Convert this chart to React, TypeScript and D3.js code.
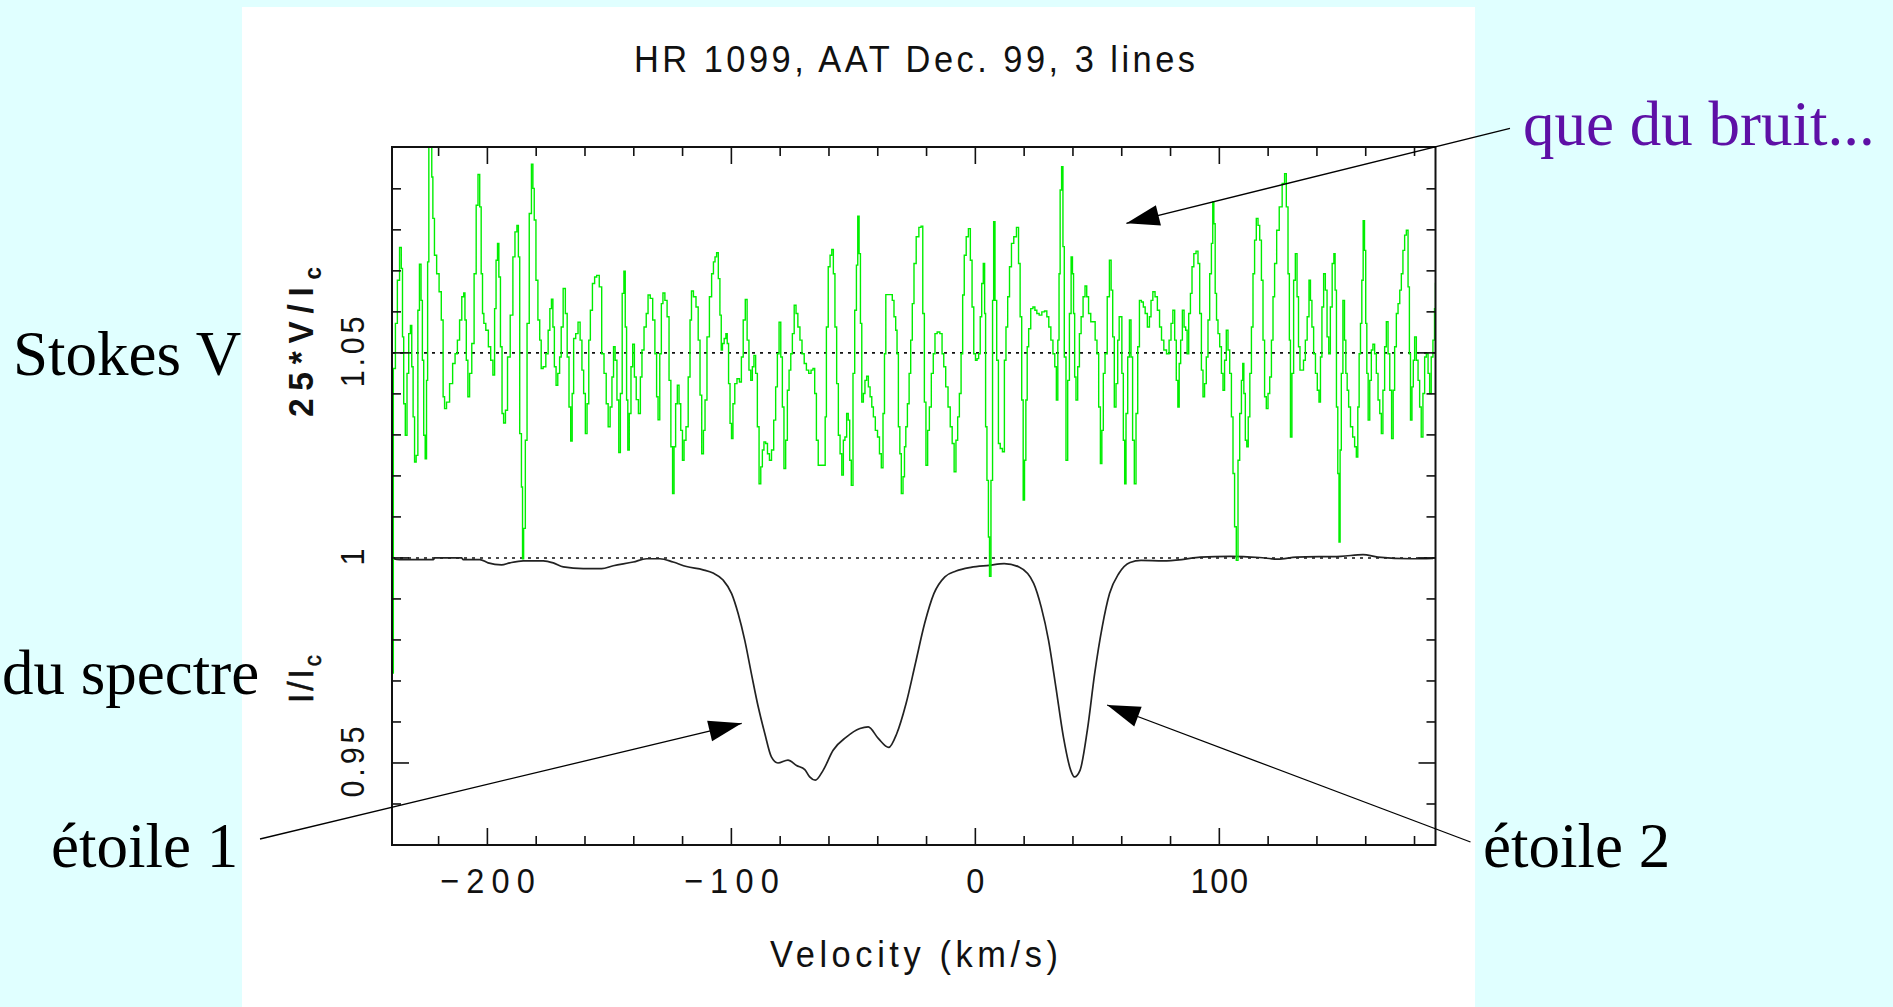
import React from "react";
import * as d3 from "d3";

// ---------- DATA (velocity km/s, plotted value) ----------
// Stokes V (scaled 25*V/Ic, offset to 1.05)
const stokesProfile: [number, number][] = [
  [-239.1, 0.9719], [-238.0, 1.0462], [-237.4, 1.0572], [-236.4, 1.0677], [-235.6, 1.0757], [-235.0, 1.0706],
  [-234.6, 1.0539], [-234.0, 1.0376], [-233.3, 1.0299], [-232.6, 1.045], [-231.9, 1.0547], [-231.2, 1.0567],
  [-230.8, 1.0466], [-230.1, 1.0344], [-229.6, 1.0234], [-228.8, 1.025], [-228.2, 1.0604], [-227.5, 1.0716],
  [-226.9, 1.0628], [-226.4, 1.0482], [-225.8, 1.0299], [-225.2, 1.0242], [-224.7, 1.0433], [-224.3, 1.0722],
  [-223.7, 1.102], [-223.0, 1.102], [-222.6, 1.0929], [-222.1, 1.0828], [-221.3, 1.0738], [-220.3, 1.0693],
  [-219.3, 1.0649], [-218.5, 1.058], [-217.8, 1.0393], [-217.3, 1.0364], [-216.2, 1.038], [-214.8, 1.0425],
  [-213.7, 1.0474], [-212.8, 1.0498], [-211.8, 1.0531], [-211.0, 1.058], [-210.0, 1.0637], [-209.4, 1.0646],
  [-209.0, 1.058], [-208.3, 1.0482], [-207.7, 1.0393], [-206.9, 1.045], [-205.9, 1.0523], [-205.0, 1.0693],
  [-204.2, 1.086], [-203.5, 1.0935], [-202.8, 1.0856], [-202.3, 1.0693], [-201.7, 1.0596], [-201.2, 1.0572],
  [-200.1, 1.0555], [-199.1, 1.0515], [-198.2, 1.0482], [-197.3, 1.0446], [-196.8, 1.0608], [-196.1, 1.0726],
  [-195.6, 1.0767], [-195.0, 1.0685], [-194.3, 1.0515], [-193.7, 1.0352], [-193.0, 1.0329], [-192.2, 1.036],
  [-191.3, 1.049], [-190.0, 1.0592], [-189.1, 1.0734], [-188.3, 1.0795], [-187.5, 1.0811], [-187.1, 1.0734],
  [-186.4, 1.0303], [-185.7, 1.0173], [-185.5, 0.9998], [-184.8, 1.0072], [-184.1, 1.0287], [-183.4, 1.0572],
  [-182.3, 1.084], [-181.6, 1.096], [-181.1, 1.0901], [-180.5, 1.0824], [-179.7, 1.0677], [-178.9, 1.058],
  [-178.2, 1.0531], [-177.7, 1.0462], [-176.6, 1.0466], [-175.5, 1.0498], [-174.7, 1.0555], [-174.1, 1.0608],
  [-173.4, 1.0631], [-172.9, 1.0563], [-172.2, 1.0466], [-171.5, 1.0421], [-170.8, 1.045], [-170.0, 1.049],
  [-169.5, 1.0563], [-168.4, 1.0657], [-167.7, 1.0596], [-166.9, 1.049], [-166.2, 1.0368], [-165.5, 1.0285],
  [-165.0, 1.0401], [-164.3, 1.0535], [-163.3, 1.0547], [-162.4, 1.0575], [-161.6, 1.0531], [-160.9, 1.0458],
  [-160.2, 1.0401], [-159.5, 1.0303], [-158.8, 1.0376], [-158.1, 1.0531], [-157.5, 1.0604], [-156.4, 1.0669],
  [-155.7, 1.0685], [-154.7, 1.0689], [-153.6, 1.0661], [-152.7, 1.0498], [-151.7, 1.045], [-150.9, 1.0376],
  [-150.1, 1.032], [-149.3, 1.0368], [-148.6, 1.0441], [-148.0, 1.0515], [-147.3, 1.0482], [-146.5, 1.0385],
  [-145.8, 1.0257], [-145.2, 1.0401], [-144.3, 1.0645], [-143.8, 1.0699], [-143.2, 1.0563], [-142.7, 1.0385],
  [-142.2, 1.0263], [-141.5, 1.0352], [-140.8, 1.0466], [-140.1, 1.0521], [-139.4, 1.0441], [-138.6, 1.0386],
  [-137.6, 1.0352], [-137.0, 1.0441], [-136.3, 1.0507], [-135.3, 1.0563], [-134.5, 1.0596], [-133.8, 1.0641],
  [-132.7, 1.0633], [-131.8, 1.058], [-130.9, 1.0498], [-130.4, 1.0393], [-129.7, 1.0337], [-129.0, 1.0498],
  [-128.4, 1.062], [-127.7, 1.0646], [-126.8, 1.0628], [-125.9, 1.0588], [-125.2, 1.0433], [-124.4, 1.0271],
  [-123.8, 1.0157], [-123.2, 1.0271], [-122.5, 1.0376], [-121.8, 1.0421], [-121.1, 1.0376], [-120.4, 1.0311],
  [-119.7, 1.0238], [-119.1, 1.0287], [-118.1, 1.032], [-117.3, 1.0441], [-116.6, 1.058], [-116.1, 1.0651],
  [-115.0, 1.0637], [-114.0, 1.0612], [-113.2, 1.0531], [-112.5, 1.0397], [-111.8, 1.0254], [-111.1, 1.0311],
  [-110.5, 1.0385], [-109.5, 1.0539], [-108.5, 1.0637], [-107.7, 1.0693], [-107.0, 1.0722], [-106.4, 1.0734],
  [-105.7, 1.0744], [-105.0, 1.0681], [-104.4, 1.0592], [-103.9, 1.0507], [-103.4, 1.0523], [-102.5, 1.0535],
  [-102.0, 1.0547], [-101.4, 1.0523], [-100.9, 1.0425], [-100.2, 1.0328], [-99.7, 1.0291], [-99.0, 1.0376],
  [-98.2, 1.0425], [-97.2, 1.0437], [-96.2, 1.0429], [-95.6, 1.049], [-94.7, 1.058], [-93.9, 1.063],
  [-93.2, 1.0531], [-92.4, 1.0458], [-91.7, 1.0433], [-91.1, 1.0466], [-90.4, 1.0494], [-89.7, 1.045],
  [-89.0, 1.032], [-88.3, 1.0181], [-87.6, 1.0222], [-87.0, 1.0263], [-86.3, 1.0283], [-85.6, 1.0279],
  [-84.8, 1.0254], [-84.0, 1.0238], [-83.1, 1.0263], [-82.2, 1.0336], [-81.5, 1.0417], [-80.8, 1.0498],
  [-80.1, 1.0575], [-79.4, 1.049], [-78.8, 1.0368], [-78.1, 1.0218], [-77.4, 1.0287], [-76.7, 1.0409],
  [-76.0, 1.0458], [-75.3, 1.0498], [-74.7, 1.0547], [-73.8, 1.0616], [-73.2, 1.0596], [-72.3, 1.0563],
  [-71.5, 1.0531], [-70.6, 1.0498], [-69.7, 1.0474], [-68.8, 1.0458], [-67.8, 1.045], [-66.9, 1.0458],
  [-66.2, 1.0462], [-65.5, 1.0401], [-64.8, 1.0287], [-64.0, 1.0226], [-63.1, 1.0226], [-61.7, 1.0226],
  [-61.4, 1.0344], [-60.7, 1.0563], [-59.9, 1.071], [-59.2, 1.0738], [-58.5, 1.0752], [-57.9, 1.0693],
  [-57.2, 1.0563], [-56.5, 1.0425], [-55.8, 1.0299], [-55.1, 1.0254], [-54.4, 1.0202], [-53.8, 1.0287],
  [-53.1, 1.0295], [-52.4, 1.0352], [-51.8, 1.0336], [-51.2, 1.0238], [-50.5, 1.0177], [-49.8, 1.045],
  [-49.1, 1.0604], [-48.4, 1.0714], [-48.0, 1.0833], [-47.3, 1.0742], [-46.9, 1.0572], [-46.2, 1.038],
  [-45.6, 1.0401], [-44.9, 1.0433], [-44.2, 1.0443], [-43.5, 1.0417], [-42.8, 1.0393], [-42.1, 1.0368],
  [-41.5, 1.0344], [-40.5, 1.0311], [-39.7, 1.0295], [-38.9, 1.0254], [-38.2, 1.022], [-37.5, 1.0352],
  [-37.0, 1.0498], [-36.4, 1.0642], [-35.3, 1.0642], [-34.4, 1.0642], [-33.7, 1.0628], [-33.0, 1.0588],
  [-32.3, 1.0555], [-31.9, 1.0498], [-31.2, 1.032], [-30.7, 1.0254], [-30.0, 1.0157], [-29.3, 1.0198],
  [-28.8, 1.0271], [-28.2, 1.032], [-27.5, 1.0376], [-26.8, 1.045], [-26.2, 1.0531], [-25.5, 1.062],
  [-24.8, 1.0718], [-23.7, 1.0783], [-22.6, 1.0806], [-21.9, 1.0809], [-21.2, 1.0596], [-20.6, 1.038],
  [-19.9, 1.0226], [-19.2, 1.0311], [-18.5, 1.0368], [-17.6, 1.045], [-16.9, 1.0498], [-16.2, 1.0547],
  [-15.1, 1.0551], [-14.0, 1.0547], [-13.3, 1.0498], [-12.6, 1.0466], [-11.7, 1.0417], [-10.7, 1.0368],
  [-9.9, 1.032], [-9.1, 1.0279], [-8.3, 1.021], [-7.6, 1.0287], [-6.9, 1.0344], [-6.2, 1.0401],
  [-5.5, 1.0498], [-4.9, 1.0641], [-4.2, 1.0738], [-3.3, 1.0783], [-2.4, 1.0803], [-1.7, 1.0726],
  [-1.0, 1.0612], [-0.3, 1.0498], [0.4, 1.0482], [1.0, 1.0486], [1.7, 1.0498], [2.3, 1.0588],
  [2.9, 1.0669], [3.6, 1.0718], [4.0, 1.0596], [4.4, 1.032], [5.1, 1.0189], [5.6, 1.0051],
  [6.0, 0.9955], [6.8, 1.0189], [7.3, 1.0628], [7.7, 1.082], [8.4, 1.0628], [9.1, 1.0482],
  [9.8, 1.0279], [10.6, 1.0267], [11.6, 1.0259], [12.2, 1.0482], [12.9, 1.0563], [13.6, 1.0637],
  [14.4, 1.071], [15.2, 1.0767], [16.3, 1.0783], [17.4, 1.0806], [18.0, 1.0718], [18.7, 1.0588],
  [19.3, 1.0385], [19.9, 1.0141], [20.4, 1.0238], [21.0, 1.0385], [21.5, 1.0515], [22.2, 1.0559],
  [23.2, 1.0608], [24.0, 1.0612], [24.8, 1.0604], [25.6, 1.0596], [26.7, 1.0592], [27.8, 1.06],
  [28.9, 1.0602], [29.7, 1.0588], [30.5, 1.0563], [31.4, 1.0531], [32.2, 1.0498], [32.9, 1.0466],
  [33.5, 1.0385], [34.1, 1.0531], [34.5, 1.0693], [35.0, 1.0897], [35.7, 1.0954], [36.1, 1.0759],
  [36.8, 1.049], [37.5, 1.0238], [38.2, 1.0433], [38.9, 1.0596], [39.6, 1.0734], [40.0, 1.0693],
  [40.5, 1.0596], [40.9, 1.0441], [41.6, 1.0385], [42.3, 1.0466], [43.0, 1.0547], [43.7, 1.0588],
  [44.6, 1.0637], [45.3, 1.0663], [46.0, 1.0637], [46.8, 1.0596], [47.8, 1.0576], [48.7, 1.0576],
  [49.5, 1.0531], [50.2, 1.0498], [50.9, 1.0368], [51.6, 1.023], [52.1, 1.0311], [52.8, 1.045],
  [53.5, 1.0498], [54.6, 1.0637], [55.3, 1.0726], [56.0, 1.0653], [56.6, 1.0539], [57.3, 1.0368],
  [58.0, 1.0425], [58.7, 1.0531], [59.2, 1.0588], [59.8, 1.0588], [60.3, 1.045], [61.0, 1.0287],
  [61.4, 1.0181], [62.1, 1.0352], [62.8, 1.049], [63.5, 1.058], [64.1, 1.049], [64.8, 1.0287],
  [65.5, 1.0181], [66.2, 1.0352], [66.9, 1.0515], [67.6, 1.0628], [68.5, 1.0624], [69.2, 1.0612],
  [70.0, 1.0596], [71.0, 1.0563], [71.7, 1.0588], [72.3, 1.0628], [73.2, 1.0649], [74.1, 1.0637],
  [75.1, 1.0604], [75.9, 1.0563], [76.7, 1.0531], [77.8, 1.0507], [78.9, 1.0498], [79.9, 1.0531],
  [80.5, 1.0572], [81.4, 1.0604], [82.0, 1.0531], [82.7, 1.0433], [83.3, 1.0368], [83.8, 1.0474],
  [84.5, 1.0531], [85.2, 1.0604], [85.9, 1.0563], [86.5, 1.0555], [87.1, 1.0498], [87.8, 1.0596],
  [88.5, 1.0645], [89.1, 1.071], [90.0, 1.0742], [90.9, 1.0748], [91.6, 1.0718], [92.3, 1.0596],
  [93.0, 1.0458], [93.6, 1.0393], [94.3, 1.0425], [95.0, 1.049], [95.7, 1.058], [96.4, 1.0693],
  [97.1, 1.0767], [97.5, 1.0868], [98.0, 1.0815], [98.6, 1.0645], [99.1, 1.058], [99.8, 1.0547],
  [100.5, 1.0515], [101.2, 1.045], [101.8, 1.0409], [102.5, 1.0482], [103.2, 1.0555], [103.9, 1.0507],
  [104.6, 1.045], [105.3, 1.0344], [105.9, 1.0206], [106.6, 1.0076], [107.3, 0.9994], [108.0, 1.0238],
  [108.7, 1.0352], [109.4, 1.0433], [109.8, 1.0474], [110.3, 1.0401], [111.0, 1.0287], [111.5, 1.0271],
  [112.2, 1.0344], [112.8, 1.045], [113.5, 1.0563], [114.1, 1.0693], [114.8, 1.0775], [115.5, 1.0828],
  [116.2, 1.0811], [116.9, 1.0775], [117.6, 1.0677], [118.2, 1.0531], [118.9, 1.0393], [119.6, 1.0364],
  [120.3, 1.0401], [121.0, 1.0441], [121.7, 1.0531], [122.3, 1.0637], [123.0, 1.0718], [124.0, 1.0799],
  [125.1, 1.0856], [126.4, 1.0913], [127.1, 1.0937], [127.8, 1.0856], [128.5, 1.0693], [128.9, 1.0531],
  [129.4, 1.0295], [130.1, 1.045], [130.8, 1.0677], [131.5, 1.0742], [132.2, 1.0637], [132.7, 1.0515],
  [133.4, 1.0458], [134.1, 1.0458], [134.9, 1.0482], [135.6, 1.0531], [136.4, 1.0588], [137.1, 1.0677],
  [137.6, 1.0628], [138.3, 1.0563], [139.0, 1.0498], [139.8, 1.045], [140.5, 1.0409], [141.2, 1.038],
  [141.7, 1.049], [142.4, 1.0612], [143.1, 1.0693], [143.8, 1.0653], [144.5, 1.0539], [145.2, 1.0498],
  [145.8, 1.0612], [146.7, 1.0718], [147.2, 1.0742], [147.7, 1.0653], [148.3, 1.0368], [148.8, 1.0206],
  [149.3, 1.0039], [149.7, 1.0263], [150.3, 1.045], [151.0, 1.0628], [151.6, 1.0531], [152.1, 1.045],
  [152.7, 1.0409], [153.3, 1.0368], [154.2, 1.032], [155.1, 1.0295], [155.8, 1.0271], [156.5, 1.0246],
  [157.0, 1.0368], [157.6, 1.0498], [158.1, 1.0572], [158.7, 1.0677], [159.2, 1.0822], [159.8, 1.075],
  [160.2, 1.0572], [160.7, 1.045], [161.3, 1.0336], [162.0, 1.0433], [162.6, 1.0507], [163.3, 1.0521],
  [164.0, 1.0498], [164.7, 1.045], [165.4, 1.0385], [166.1, 1.0352], [166.7, 1.0303], [167.4, 1.0409],
  [168.1, 1.0515], [168.8, 1.0576], [169.5, 1.0498], [170.2, 1.0409], [171.0, 1.0291], [171.5, 1.0409],
  [172.2, 1.0515], [172.9, 1.0596], [173.6, 1.062], [174.3, 1.0653], [174.9, 1.0693], [175.6, 1.075],
  [176.3, 1.0787], [177.0, 1.0799], [177.7, 1.0661], [178.1, 1.0498], [178.6, 1.0336], [179.3, 1.0417],
  [179.7, 1.0482], [180.4, 1.0539], [181.1, 1.0482], [181.8, 1.0433], [182.4, 1.0368], [183.1, 1.0295],
  [183.8, 1.0401], [184.5, 1.049], [185.2, 1.0498], [185.9, 1.045], [186.5, 1.0401], [187.2, 1.049],
  [187.9, 1.0531], [188.5, 1.0608], [188.7, 1.0669],
];

// Mean intensity profile I/Ic
const intensityProfile: [number, number][] = [
  [-239.0, 0.9999], [-235.9, 0.9996], [-222.2, 0.9996], [-221.5, 1.0], [-210.6, 1.0], [-209.9, 0.9996],
  [-203.1, 0.9996], [-199.7, 0.9988], [-194.2, 0.9983], [-190.8, 0.9988], [-185.3, 0.9993], [-177.1, 0.9993],
  [-173.0, 0.9988], [-168.9, 0.9978], [-160.7, 0.9974], [-153.2, 0.9974], [-148.4, 0.9981], [-140.2, 0.999],
  [-134.8, 0.9998], [-129.3, 0.9998], [-123.9, 0.999], [-118.4, 0.9979], [-111.6, 0.9971], [-107.5, 0.9963],
  [-103.4, 0.9946], [-99.9, 0.9913], [-97.2, 0.9864], [-94.5, 0.9799], [-91.8, 0.9718], [-89.0, 0.9637],
  [-86.3, 0.9572], [-83.6, 0.9515], [-80.9, 0.95], [-76.8, 0.9507], [-73.3, 0.9494], [-69.9, 0.9484],
  [-67.9, 0.9466], [-65.6, 0.9458], [-62.4, 0.9482], [-58.3, 0.9531], [-52.9, 0.9563], [-47.3, 0.9584],
  [-43.9, 0.9588], [-39.8, 0.956], [-35.5, 0.9538], [-32.2, 0.9572], [-28.4, 0.9645], [-24.6, 0.9742],
  [-20.8, 0.984], [-17.0, 0.9913], [-12.5, 0.9954], [-7.9, 0.9968], [-1.8, 0.9977], [5.7, 0.9982],
  [11.8, 0.9986], [17.9, 0.9978], [23.9, 0.9938], [27.0, 0.988], [30.0, 0.9799], [33.0, 0.9685],
  [36.1, 0.9563], [39.1, 0.9482], [40.6, 0.9466], [42.9, 0.9482], [45.9, 0.958], [48.9, 0.9718],
  [52.0, 0.9832], [55.0, 0.9913], [58.8, 0.9962], [63.4, 0.9989], [67.9, 0.9994], [77.0, 0.9993],
  [84.6, 0.9996], [92.2, 1.0002], [104.3, 1.0004], [116.4, 1.0001], [124.0, 0.9997], [131.6, 1.0002],
  [149.8, 1.0004], [158.9, 1.0008], [165.0, 1.0002], [178.6, 0.9998], [187.6, 0.9999],
];

const xMajorTickValues = [-200, -100, 0, 100];
const xMajorTickLabels = ["\u2212200", "\u2212100", "0", "100"];
const yMajorTickValues = [0.95, 1, 1.05];
const yMajorTickLabels = ["0.95", "1", "1.05"];
const referenceLevels = [1.0, 1.05];

const titleText = "HR 1099, AAT Dec. 99, 3 lines";
const xAxisTitle = "Velocity (km/s)";

// ---------- LAYOUT ----------
const W = 1893;
const H = 1007;
const PLOT = { left: 392, right: 1435.5, top: 147, bottom: 845 };
const PGFONT = "'Liberation Sans', Arimo, Arial, sans-serif";
const SERIF = "'Liberation Serif', 'Times New Roman', serif";
const NARROW = 0.93; // slight horizontal squeeze for the plotting-package lettering

type Arrow = { from: [number, number]; to: [number, number] };
const arrows: Arrow[] = [
  { from: [1510, 128.3], to: [1126.4, 223.3] },
  { from: [260, 839], to: [741.7, 723.3] },
  { from: [1470.5, 842], to: [1107.1, 705] },
];

function headPoints(a: Arrow, len = 33, half = 10.5) {
  const [x1, y1] = a.from;
  const [x2, y2] = a.to;
  const dx = x2 - x1;
  const dy = y2 - y1;
  const d = Math.hypot(dx, dy);
  const ux = dx / d;
  const uy = dy / d;
  const bx = x2 - ux * len;
  const by = y2 - uy * len;
  const px = -uy;
  const py = ux;
  return `${x2},${y2} ${bx + px * half},${by + py * half} ${bx - px * half},${by - py * half}`;
}

function labelLength(s: string) {
  if (s.length < 2) return undefined;
  const minus = s.startsWith("\u2212") ? 37.4 : 0;
  const digits = s.replace("\u2212", "").length;
  return minus + digits * 19.2;
}

export default function App() {
  const x = d3.scaleLinear().domain([-239.1, 188.6]).range([PLOT.left, PLOT.right]);
  const y = d3.scaleLinear().domain([0.93, 1.1002]).range([PLOT.bottom, PLOT.top]);

  const stokesLine = d3
    .line<[number, number]>()
    .x((d) => x(d[0]))
    .y((d) => y(d[1]))
    .curve(d3.curveStep);
  const intensityLine = d3
    .line<[number, number]>()
    .x((d) => x(d[0]))
    .y((d) => y(d[1]))
    .curve(d3.curveMonotoneX);

  const xMinor = d3.range(-220, 181, 20).filter((v) => !xMajorTickValues.includes(v));
  const yMinor = d3
    .range(94, 110, 1)
    .map((v) => v / 100)
    .filter((v) => !yMajorTickValues.some((m) => Math.abs(m - v) < 1e-6));

  const MAJ = 17;
  const MIN = 9;
  const tickStroke = { stroke: "#111", strokeWidth: 1.6 };

  return (
    <div style={{ position: "absolute", left: 0, top: 0, width: W, height: H }}>
      <svg width={W} height={H} style={{ display: "block" }}>
        <defs>
          <clipPath id="plotClip">
            <rect x={PLOT.left} y={PLOT.top} width={PLOT.right - PLOT.left} height={PLOT.bottom - PLOT.top} />
          </clipPath>
        </defs>
        <rect x={0} y={0} width={W} height={H} fill="#E0FFFF" />
        <rect x={242} y={7} width={1233} height={H - 7} fill="#FFFFFF" />

        {/* title */}
        <text
          transform={`translate(914.5,71.7) scale(${NARROW},1)`}
          textAnchor="middle"
          fontFamily={PGFONT}
          fontSize={37}
          textLength={561 / NARROW}
          lengthAdjust="spacing"
          fill="#111"
        >
          {titleText}
        </text>

        {/* reference levels */}
        {referenceLevels.map((lv) => (
          <line
            key={lv}
            x1={PLOT.left}
            x2={PLOT.right}
            y1={y(lv)}
            y2={y(lv)}
            stroke="#111"
            strokeWidth={lv === 1.05 ? 1.8 : 1.5}
            strokeDasharray="3,5"
          />
        ))}

        {/* data */}
        <g clipPath="url(#plotClip)">
          <path d={intensityLine(intensityProfile) || ""} fill="none" stroke="#222" strokeWidth={1.7} />
          <path d={stokesLine(stokesProfile) || ""} fill="none" stroke="#00EE00" strokeWidth={1.4} />
        </g>

        {/* frame */}
        <rect
          x={PLOT.left}
          y={PLOT.top}
          width={PLOT.right - PLOT.left}
          height={PLOT.bottom - PLOT.top}
          fill="none"
          stroke="#111"
          strokeWidth={2}
        />

        {/* x ticks */}
        {xMajorTickValues.map((v) => (
          <g key={`xM${v}`}>
            <line x1={x(v)} x2={x(v)} y1={PLOT.bottom} y2={PLOT.bottom - MAJ} {...tickStroke} />
            <line x1={x(v)} x2={x(v)} y1={PLOT.top} y2={PLOT.top + MAJ} {...tickStroke} />
          </g>
        ))}
        {xMinor.map((v) => (
          <g key={`xm${v}`}>
            <line x1={x(v)} x2={x(v)} y1={PLOT.bottom} y2={PLOT.bottom - MIN} {...tickStroke} />
            <line x1={x(v)} x2={x(v)} y1={PLOT.top} y2={PLOT.top + MIN} {...tickStroke} />
          </g>
        ))}
        {/* y ticks */}
        {yMajorTickValues.map((v) => (
          <g key={`yM${v}`}>
            <line x1={PLOT.left} x2={PLOT.left + MAJ} y1={y(v)} y2={y(v)} {...tickStroke} />
            <line x1={PLOT.right} x2={PLOT.right - MAJ} y1={y(v)} y2={y(v)} {...tickStroke} />
          </g>
        ))}
        {yMinor.map((v) => (
          <g key={`ym${v}`}>
            <line x1={PLOT.left} x2={PLOT.left + MIN} y1={y(v)} y2={y(v)} {...tickStroke} />
            <line x1={PLOT.right} x2={PLOT.right - MIN} y1={y(v)} y2={y(v)} {...tickStroke} />
          </g>
        ))}

        {/* x tick labels */}
        {xMajorTickValues.map((v, i) => {
          const len = labelLength(xMajorTickLabels[i]);
          return (
            <text
              key={`xl${v}`}
              transform={`translate(${x(v)},892.5) scale(${NARROW},1)`}
              textAnchor="middle"
              fontFamily={PGFONT}
              fontSize={35}
              fill="#111"
              textLength={len ? len / NARROW : undefined}
              lengthAdjust="spacing"
            >
              {xMajorTickLabels[i]}
            </text>
          );
        })}
        {/* y tick labels */}
        {yMajorTickValues.map((v, i) => (
          <text
            key={`yl${v}`}
            transform={`translate(364,${y(v) - 1}) rotate(-90) scale(${NARROW},1)`}
            textAnchor="middle"
            fontFamily={PGFONT}
            fontSize={33}
            fill="#111"
            textLength={yMajorTickLabels[i].length > 1 ? 71 / NARROW : undefined}
            lengthAdjust="spacing"
          >
            {yMajorTickLabels[i]}
          </text>
        ))}

        {/* axis titles */}
        <text
          transform={`translate(914,966.5) scale(${NARROW},1)`}
          textAnchor="middle"
          fontFamily={PGFONT}
          fontSize={37}
          textLength={288 / NARROW}
          lengthAdjust="spacing"
          fill="#111"
        >
          {xAxisTitle}
        </text>
        <text
          transform={`translate(313,342) rotate(-90) scale(${NARROW},1)`}
          textAnchor="middle"
          fontFamily={PGFONT}
          fontSize={36}
          fontWeight="bold"
          fill="#111"
          textLength={150 / NARROW}
          lengthAdjust="spacing"
        >
          25*V/I
          <tspan fontSize={24} dy={8}>
            c
          </tspan>
        </text>
        <text
          transform={`translate(313,679) rotate(-90) scale(${NARROW},1)`}
          textAnchor="middle"
          fontFamily={PGFONT}
          fontSize={36}
          fill="#111"
          stroke="#111"
          strokeWidth={0.6}
          textLength={48 / NARROW}
          lengthAdjust="spacing"
        >
          I/I
          <tspan fontSize={24} dy={8}>
            c
          </tspan>
        </text>

        {/* annotations */}
        {arrows.map((a, i) => (
          <g key={`ar${i}`}>
            <line x1={a.from[0]} y1={a.from[1]} x2={a.to[0]} y2={a.to[1]} stroke="#000" strokeWidth={1.3} />
            <polygon points={headPoints(a)} fill="#000" />
          </g>
        ))}
        <text x={1523} y={145} fontFamily={SERIF} fontSize={63} fill="#5E10A6">
          que du bruit...
        </text>
        <text x={13} y={375} fontFamily={SERIF} fontSize={63} fill="#000">
          Stokes V
        </text>
        <text x={2} y={694} fontFamily={SERIF} fontSize={63} fill="#000">
          du spectre
        </text>
        <text x={51} y={867} fontFamily={SERIF} fontSize={63} fill="#000">
          étoile 1
        </text>
        <text x={1483} y={867} fontFamily={SERIF} fontSize={63} fill="#000">
          étoile 2
        </text>
      </svg>
    </div>
  );
}
